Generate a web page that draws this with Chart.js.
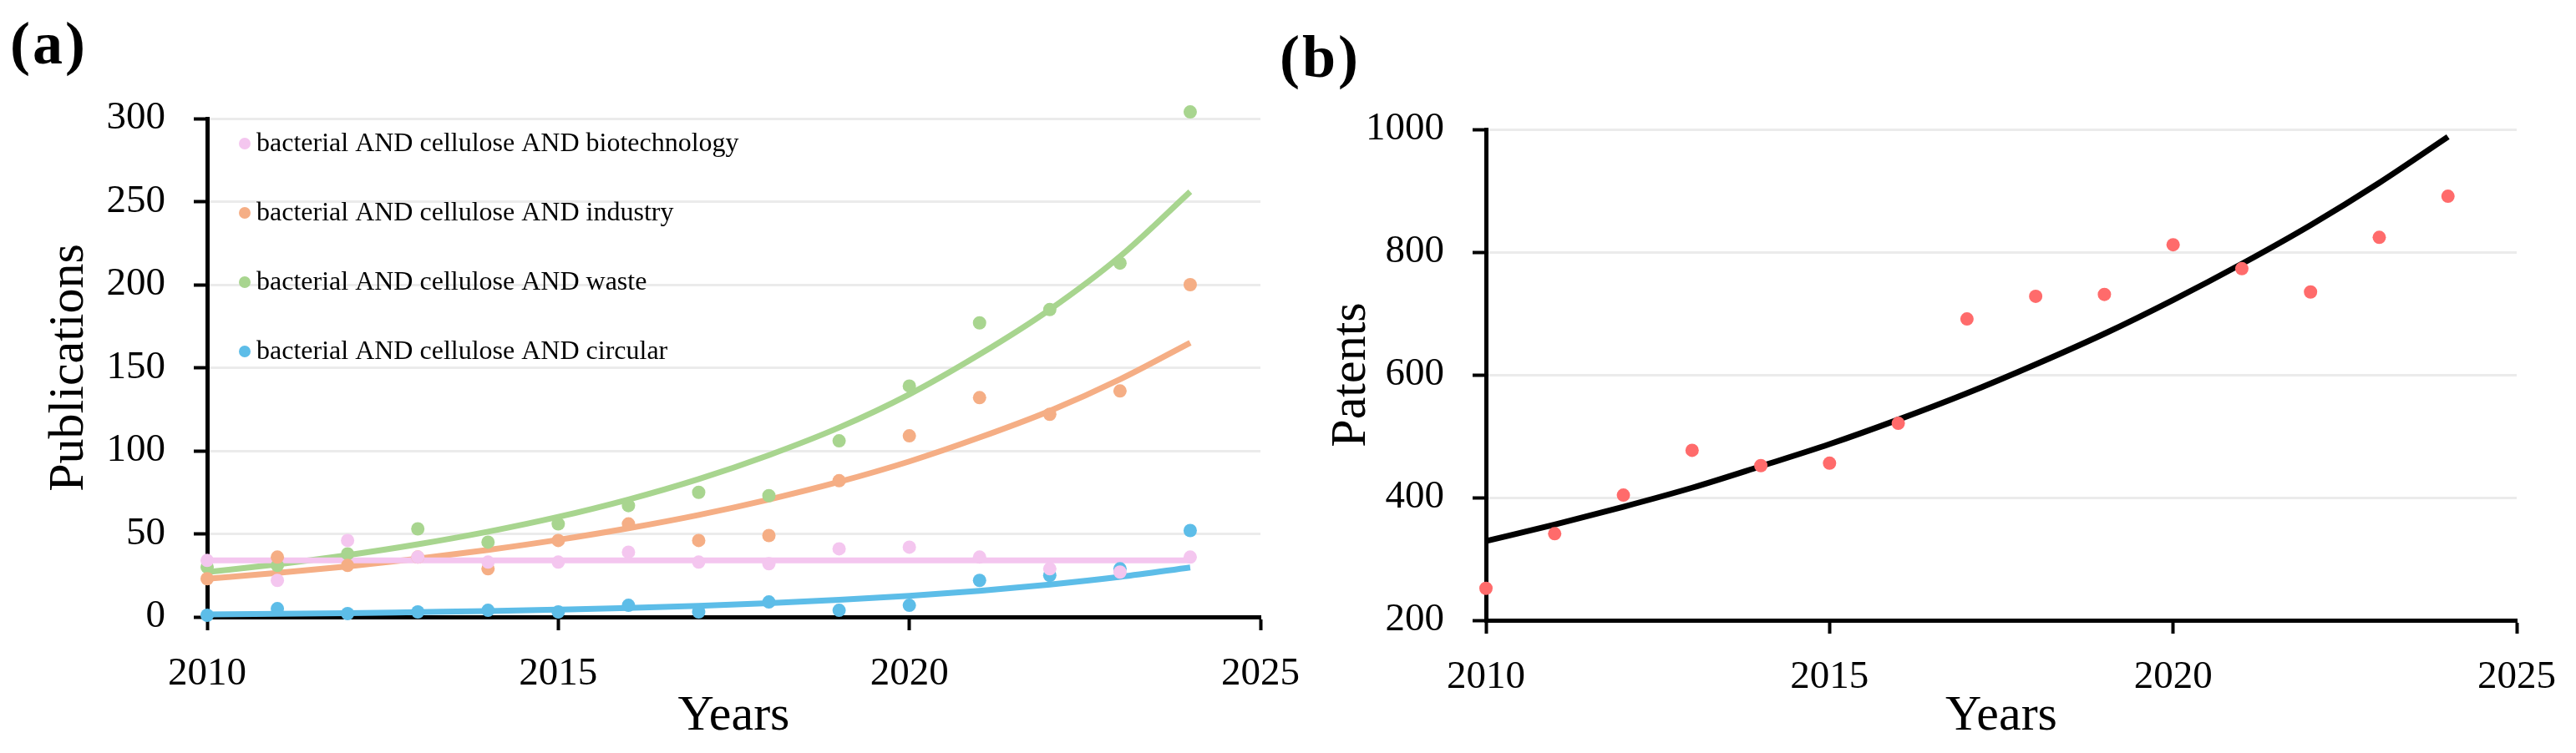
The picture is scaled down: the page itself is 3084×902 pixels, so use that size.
<!DOCTYPE html>
<html lang="en">
<head>
    <meta charset="UTF-8">
    <title>Publications and Patents, 2010-2024</title>
    <script src="https://cdn.jsdelivr.net/npm/chart.js"></script>
    <style>
        body {
            margin: 0;
            background-color: #fff;
            width: 3084px;
            height: 902px;
            position: relative;
            overflow: hidden;
            font-family: 'Liberation Serif', serif;
        }
        .panel {
            position: absolute;
            font-size: 72px;
            font-weight: bold;
            line-height: 1;
            letter-spacing: 3px;
            color: #000;
        }
        #wrapA, #wrapB {
            position: absolute;
            top: 0;
        }
        #wrapA { left: 0; }
        #wrapB { left: 1500px; }
    </style>
</head>
<body>
    <div class="panel" style="left: 12px; top: 16px;">(a)</div>
    <div class="panel" style="left: 1532px; top: 32px;">(b)</div>

    <div id="wrapA"><canvas id="chartA" width="1580" height="902"></canvas></div>
    <div id="wrapB"><canvas id="chartB" width="1584" height="902"></canvas></div>

    <script>
        // values
        const years = [2010, 2011, 2012, 2013, 2014, 2015, 2016, 2017, 2018, 2019, 2020, 2021, 2022, 2023, 2024];

        const biotech = [34, 22, 46, 36, 33, 33, 39, 33, 32, 41, 42, 36, 29, 27, 36];
        const industry = [23, 36, 31, 36, 29, 46, 56, 46, 49, 82, 109, 132, 122, 136, 200];
        const waste = [30, 31, 38, 53, 45, 56, 67, 75, 73, 106, 139, 177, 185, 213, 304];
        const circular = [1, 5, 2, 3, 4, 3, 7, 3, 9, 4, 7, 22, 25, 29, 52];

        // trend lines as drawn in the figure
        const biotechTrend = [34, 34, 34, 34, 34, 34, 34, 34, 34, 34, 34, 34, 34, 34, 34];
        const industryTrend = [23, 26.5, 30.4, 35, 40.3, 46.4, 53.4, 61.4, 70.7, 81.3, 93.6, 108, 124, 143, 165];
        const wasteTrend = [27, 31.7, 37.2, 43.7, 51.3, 60.2, 70.7, 83, 97.4, 114, 134, 158, 185, 217, 256];
        const circularTrend = [1.5, 1.9, 2.3, 2.9, 3.5, 4.4, 5.4, 6.7, 8.3, 10.3, 12.7, 15.7, 19.5, 24.1, 29.8];

        const patents = [252, 341, 404, 477, 452, 456, 521, 691, 728, 731, 812, 773, 735, 824, 891];
        const patentsTrend = [329, 356, 385, 416, 451, 487, 527, 570, 617, 667, 722, 781, 844, 913, 988];

        const seriesNames = [
            'bacterial AND cellulose AND biotechnology',
            'bacterial AND cellulose AND industry',
            'bacterial AND cellulose AND waste',
            'bacterial AND cellulose AND circular'
        ];
        const seriesColors = ['#f4c6ef', '#f5ae85', '#a8d58f', '#5dbde8'];

        const xTicks = [2010, 2015, 2020, 2025];

        Chart.defaults.font.family = "'Liberation Serif', serif";
        Chart.defaults.color = '#000';

        function toPoints(vals) {
            return vals.map((v, i) => ({ x: years[i], y: v }));
        }

        // legend drawn inside the plot area, one entry per line
        const insideLegend = {
            id: 'insideLegend',
            afterDraw(chart, args, opts) {
                if (!opts.show) return;
                const ctx = chart.ctx;
                const area = chart.chartArea;
                const items = chart.data.datasets.filter(d => !d.trend);
                ctx.save();
                ctx.font = '32px "Liberation Serif"';
                ctx.textBaseline = 'middle';
                items.forEach((d, i) => {
                    const y = area.top + opts.y0 + i * opts.gap;
                    const x = area.left + opts.x0;
                    ctx.fillStyle = d.backgroundColor;
                    ctx.beginPath();
                    ctx.arc(x, y, 7, 0, Math.PI * 2);
                    ctx.fill();
                    ctx.fillStyle = '#000';
                    ctx.fillText(d.label, x + 14, y + 1);
                });
                ctx.restore();
            }
        };

        function axisX(height, titlePad) {
            return {
                type: 'linear', min: 2010, max: 2025,
                afterBuildTicks: s => { s.ticks = xTicks.map(v => ({ value: v })); },
                ticks: { font: { size: 47 }, color: '#000', padding: 24, callback: v => String(v) },
                grid: { drawOnChartArea: false, tickLength: 16, tickColor: '#000', tickWidth: 4 },
                border: { color: '#000', width: 5 },
                title: { display: true, text: 'Years', font: { size: 60 }, color: '#000', padding: { top: 0, bottom: titlePad } },
                afterFit: s => { s.height = height; }
            };
        }

        function axisY(min, max, step, text, width, titlePad) {
            return {
                min: min, max: max,
                ticks: { stepSize: step, font: { size: 47 }, color: '#000', padding: 34, callback: v => String(v) },
                grid: { color: '#ebebeb', lineWidth: 3, tickLength: 16, tickColor: '#000', tickWidth: 4 },
                border: { color: '#000', width: 5 },
                title: { display: true, text: text, font: { size: 60 }, color: '#000', padding: { top: titlePad, bottom: 0 } },
                afterFit: s => { s.width = width; }
            };
        }

        // panel (a)
        const dataA = [biotech, industry, waste, circular];
        const trendA = [biotechTrend, industryTrend, wasteTrend, circularTrend];
        const datasetsA = [];
        dataA.forEach((vals, i) => {
            datasetsA.push({
                label: seriesNames[i],
                data: toPoints(vals),
                backgroundColor: seriesColors[i],
                borderWidth: 0,
                pointRadius: 8,
                clip: false,
                order: 1
            });
        });
        trendA.forEach((vals, i) => {
            datasetsA.push({
                label: 'trend ' + seriesNames[i],
                trend: true,
                data: toPoints(vals),
                showLine: true,
                borderColor: seriesColors[i],
                borderWidth: 7,
                pointRadius: 0,
                cubicInterpolationMode: 'monotone',
                clip: false,
                order: 2
            });
        });

        new Chart(document.getElementById('chartA'), {
            type: 'scatter',
            data: { datasets: datasetsA },
            options: {
                responsive: false,
                animation: false,
                devicePixelRatio: 1,
                layout: { padding: { top: 142, right: 62, left: 0, bottom: 0 } },
                plugins: {
                    legend: { display: false },
                    tooltip: { enabled: false },
                    insideLegend: { show: true, x0: 45, y0: 30, gap: 83 }
                },
                scales: {
                    x: axisX(163, 8),
                    y: axisY(0, 300, 50, 'Publications', 248, 47)
                }
            },
            plugins: [insideLegend]
        });

        // panel (b)
        new Chart(document.getElementById('chartB'), {
            type: 'scatter',
            data: {
                datasets: [
                    {
                        label: 'Patents',
                        data: toPoints(patents),
                        backgroundColor: '#ff6b6b',
                        borderWidth: 0,
                        pointRadius: 8,
                        clip: false,
                        order: 1
                    },
                    {
                        label: 'trend Patents',
                        trend: true,
                        data: toPoints(patentsTrend),
                        showLine: true,
                        borderColor: '#000',
                        borderWidth: 7,
                        pointRadius: 0,
                        cubicInterpolationMode: 'monotone',
                        clip: false,
                        order: 2
                    }
                ]
            },
            options: {
                responsive: false,
                animation: false,
                devicePixelRatio: 1,
                layout: { padding: { top: 155, right: 60, left: 0, bottom: 0 } },
                plugins: {
                    legend: { display: false },
                    tooltip: { enabled: false }
                },
                scales: {
                    x: axisX(159, 8),
                    y: axisY(200, 1000, 200, 'Patents', 279, 82)
                }
            }
        });
    </script>
</body>
</html>
